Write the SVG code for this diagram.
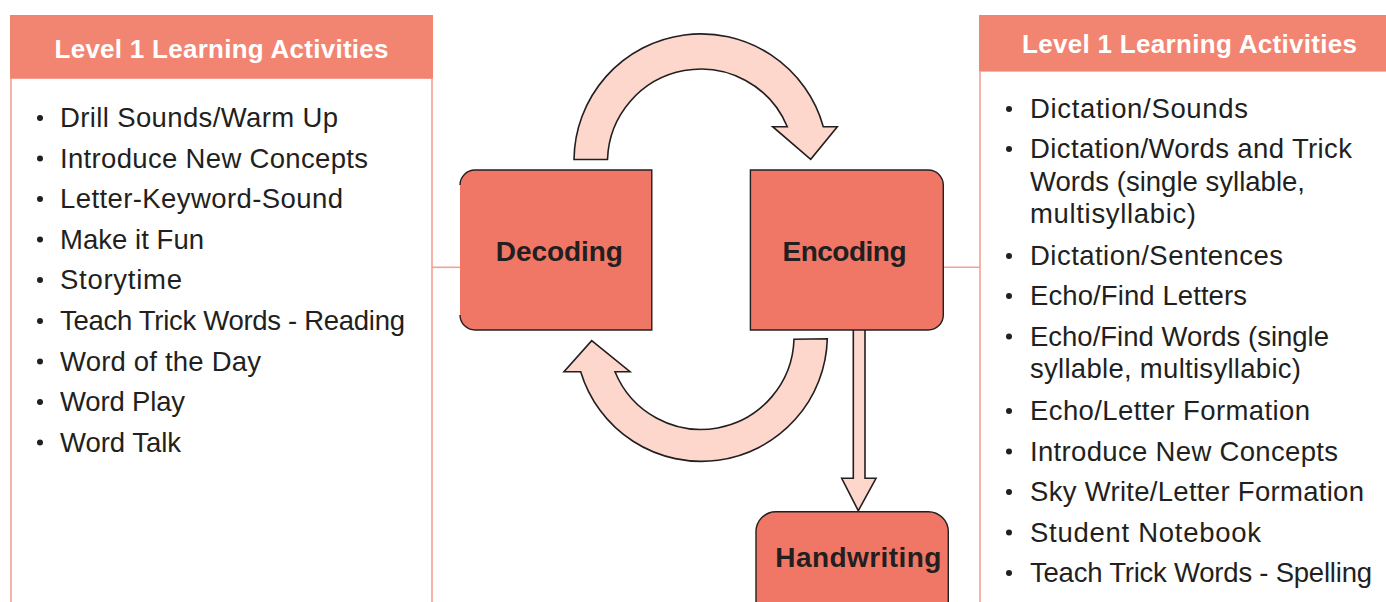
<svg xmlns="http://www.w3.org/2000/svg" width="1386" height="602" viewBox="0 0 1386 602">
<style>
.hdr{fill:#f28472}
.body{fill:#fff;stroke:#f4a193;stroke-width:1.6}
.htxt{font-family:"Liberation Sans",Arial,sans-serif;font-weight:bold;font-size:26px;fill:#fff;text-anchor:middle}
.item{font-family:"Liberation Sans",Arial,sans-serif;font-size:27.5px;fill:#231f20}
.bul{fill:#231f20}
.link{stroke:#f4a193;stroke-width:1.6;fill:none}
.arrow{fill:#fdd7cb;stroke:#231f20;stroke-width:1.6;stroke-linejoin:miter}
.box{fill:#f07666}
.boxs{fill:none;stroke:#231f20;stroke-width:1.4}
.ntxt{font-family:"Liberation Sans",Arial,sans-serif;font-weight:bold;font-size:28px;fill:#231f20;text-anchor:middle}
</style>

<g id="left-panel">
  <rect class="body" x="11" y="78" width="421" height="540"/>
  <rect class="hdr" x="10" y="15" width="423" height="63.5"/>
  <text class="htxt" x="221.5" y="57.5" textLength="334">Level 1 Learning Activities</text>
  <g class="bul">
    <circle cx="40" cy="118" r="3"/>
    <circle cx="40" cy="158.5" r="3"/>
    <circle cx="40" cy="199" r="3"/>
    <circle cx="40" cy="239.5" r="3"/>
    <circle cx="40" cy="280" r="3"/>
    <circle cx="40" cy="321" r="3"/>
    <circle cx="40" cy="361.5" r="3"/>
    <circle cx="40" cy="402" r="3"/>
    <circle cx="40" cy="442.5" r="3"/>
  </g>
  <text class="item" x="60" y="127" textLength="278">Drill Sounds/Warm Up</text>
  <text class="item" x="60" y="167.5" textLength="308">Introduce New Concepts</text>
  <text class="item" x="60" y="208" textLength="283">Letter-Keyword-Sound</text>
  <text class="item" x="60" y="248.5" textLength="144">Make it Fun</text>
  <text class="item" x="60" y="289" textLength="122">Storytime</text>
  <text class="item" x="60" y="330" textLength="345">Teach Trick Words - Reading</text>
  <text class="item" x="60" y="370.5" textLength="201">Word of the Day</text>
  <text class="item" x="60" y="411" textLength="125">Word Play</text>
  <text class="item" x="60" y="451.5" textLength="121">Word Talk</text>
</g>

<g id="right-panel">
  <rect class="body" x="980" y="71" width="430" height="540"/>
  <rect class="hdr" x="979" y="15" width="410" height="56"/>
  <text class="htxt" x="1189.5" y="53.3" textLength="335">Level 1 Learning Activities</text>
  <g class="bul">
    <circle cx="1009" cy="109" r="3"/>
    <circle cx="1009" cy="149" r="3"/>
    <circle cx="1009" cy="256" r="3"/>
    <circle cx="1009" cy="296" r="3"/>
    <circle cx="1009" cy="336.5" r="3"/>
    <circle cx="1009" cy="411" r="3"/>
    <circle cx="1009" cy="451.5" r="3"/>
    <circle cx="1009" cy="492" r="3"/>
    <circle cx="1009" cy="532.5" r="3"/>
    <circle cx="1009" cy="573" r="3"/>
  </g>
  <text class="item" x="1030" y="118.3" textLength="218">Dictation/Sounds</text>
  <text class="item" x="1030" y="158.3" textLength="322">Dictation/Words and Trick</text>
  <text class="item" x="1030" y="191" textLength="275">Words (single syllable,</text>
  <text class="item" x="1030" y="222.5" textLength="166">multisyllabic)</text>
  <text class="item" x="1030" y="265" textLength="253">Dictation/Sentences</text>
  <text class="item" x="1030" y="305" textLength="217">Echo/Find Letters</text>
  <text class="item" x="1030" y="345.5" textLength="299">Echo/Find Words (single</text>
  <text class="item" x="1030" y="377.5" textLength="271">syllable, multisyllabic)</text>
  <text class="item" x="1030" y="420" textLength="280">Echo/Letter Formation</text>
  <text class="item" x="1030" y="460.5" textLength="308">Introduce New Concepts</text>
  <text class="item" x="1030" y="501" textLength="334">Sky Write/Letter Formation</text>
  <text class="item" x="1030" y="541.7" textLength="231">Student Notebook</text>
  <text class="item" x="1030" y="581.7" textLength="342">Teach Trick Words - Spelling</text>
</g>

<g id="connectors">
  <line class="link" x1="432" y1="267.3" x2="461" y2="267.3"/>
  <line class="link" x1="943" y1="267.3" x2="980" y2="267.3"/>
  <path class="arrow" d="M 574,159.5 A 127,127 0 0 1 823.3,126.7 L 837.3,126.7 L 810.7,159.3 L 772.7,126.7 L 787.3,126.7 A 93.5,93.5 0 0 0 607.5,159.5 Z"/>
  <path class="arrow" d="M 827.3,338.7 A 126,126 0 0 1 580.7,371.7 L 564,371.7 L 591.7,340.7 L 630,371.7 L 615,371.7 A 93,93 0 0 0 794,339.3 Z"/>
  <path class="arrow" d="M 853.3,328 L 853.3,478.3 L 841.7,478.3 L 858.3,510.7 L 876,478.3 L 865,478.3 L 865,328 Z"/>
</g>

<g id="node-decoding">
  <path class="box" d="M 475,170 H 651.8 V 330 H 475 A 15,15 0 0 1 460,315 V 185 A 15,15 0 0 1 475,170 Z"/>
  <path class="boxs" d="M 460,185 A 15,15 0 0 1 475,170 H 651.8 V 330 H 475 A 15,15 0 0 1 460,315"/>
  <text class="ntxt" x="559.3" y="260.7" textLength="127">Decoding</text>
</g>

<g id="node-encoding">
  <path class="box" d="M 750.4,170 H 928.3 A 15,15 0 0 1 943.3,185 V 315 A 15,15 0 0 1 928.3,330 H 750.4 Z"/>
  <path class="boxs" d="M 750.4,170 H 928.3 A 15,15 0 0 1 943.3,185 V 315 A 15,15 0 0 1 928.3,330 H 750.4 Z"/>
  <text class="ntxt" x="844.5" y="260.7" textLength="124">Encoding</text>
</g>

<g id="node-handwriting">
  <rect class="box" x="756" y="511.7" width="192.3" height="120" rx="20"/>
  <rect class="boxs" x="756" y="511.7" width="192.3" height="120" rx="20"/>
  <text class="ntxt" x="858.3" y="567.3" textLength="166">Handwriting</text>
</g>
</svg>
